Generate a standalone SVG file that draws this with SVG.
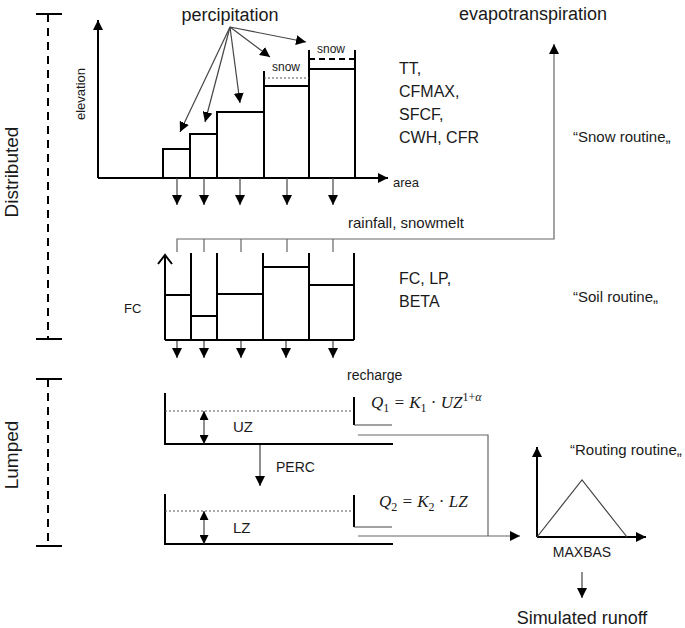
<svg xmlns="http://www.w3.org/2000/svg" width="685" height="628" viewBox="0 0 685 628">
<style>
text{font-family:"Liberation Sans",Arial,sans-serif;fill:#1a1a1a}
.thick{stroke:#000;stroke-width:2;fill:none}
.thin{stroke:#444;stroke-width:1.2;fill:none}
.gray{stroke:#666;stroke-width:1.2;fill:none}
.dash{stroke:#000;stroke-width:2;stroke-dasharray:8 6;fill:none}
.dot{stroke:#555;stroke-width:1;stroke-dasharray:2 2;fill:none}
.math{font-family:"Liberation Serif","Times New Roman",serif;font-style:italic;font-size:17px}
.up{font-style:normal}
</style>
<defs>
<marker id="ah" markerUnits="userSpaceOnUse" markerWidth="10" markerHeight="10" refX="10" refY="5" orient="auto">
<path d="M0,0 L10,5 L0,10 z" fill="#000"/>
</marker>
<marker id="ahs" markerUnits="userSpaceOnUse" markerWidth="9" markerHeight="9" refX="9" refY="4.5" orient="auto-start-reverse">
<path d="M0,0 L9,4.5 L0,9 z" fill="#000"/>
</marker>
</defs>

<g id="brackets">
<path class="dash" d="M48,14 V339"/>
<path class="thick" d="M36,14 H62 M36,339 H62"/>
<path class="dash" d="M48,379 V546"/>
<path class="thick" d="M36,379 H62 M36,546 H62"/>
<text transform="translate(18,172) rotate(-90)" text-anchor="middle" font-size="19">Distributed</text>
<text transform="translate(18,455) rotate(-90)" text-anchor="middle" font-size="19">Lumped</text>
</g>

<g id="snow-chart">
<path class="thick" d="M98,178 V20" marker-end="url(#ah)"/>
<path class="thick" d="M98,178 H388" marker-end="url(#ah)"/>
<text transform="translate(85,94) rotate(-90)" text-anchor="middle" font-size="13">elevation</text>
<text x="393" y="187" font-size="13">area</text>
<path class="thick" d="M163,178 V149 H190 V178 M190,149 V134 H217 V178 M217,134 V112 H264 V178 M264,178 V71 M264,86 H309 M309,178 V50 M309,69 H355 M355,178 V50"/>
<path class="dot" d="M264,78 H309"/>
<path class="thick" d="M309,59 H355" stroke-dasharray="6 4"/>
<text x="286" y="71" text-anchor="middle" font-size="12">snow</text>
<text x="331" y="53" text-anchor="middle" font-size="12">snow</text>
<text x="230" y="21" text-anchor="middle" font-size="18">percipitation</text>
</g>

<g id="snow-params">
<text x="399" y="74" font-size="16">TT,</text>
<text x="399" y="97" font-size="16">CFMAX,</text>
<text x="399" y="120" font-size="16">SFCF,</text>
<text x="399" y="143" font-size="16">CWH, CFR</text>
<text x="573" y="142" font-size="15">“Snow routine„</text>
</g>

<g id="evap">
<text x="533" y="20" text-anchor="middle" font-size="18">evapotranspiration</text>
</g>

<g id="soil">
<path class="thick" d="M165,340 V256"/>
<path class="thick" d="M158,264 L165,255 L172,264"/>
<path class="thick" d="M165,340 H354 M191,253 V340 M217,253 V340 M263,253 V340 M309,253 V340 M354,253 V340"/>
<path class="thick" d="M165,295 H191 M191,316 H217 M217,294 H263 M263,267 H309 M309,285 H354"/>
<text x="124" y="313" font-size="13">FC</text>
<text x="348" y="228" font-size="15">rainfall, snowmelt</text>
<text x="399" y="284" font-size="16">FC, LP,</text>
<text x="399" y="307" font-size="16">BETA</text>
<text x="573" y="302" font-size="15">“Soil routine„</text>
</g>

<g id="upper-zone">
<path class="thick" d="M165,393 V444 H393"/>
<path class="dot" d="M165,411 H354"/>
<path class="thick" d="M354,397 V425"/>
<path class="thin" d="M354,425 H392"/>
<path class="thin" d="M204,411 V444" marker-start="url(#ahs)" marker-end="url(#ahs)"/>
<text x="233" y="432" font-size="15">UZ</text>
<text x="347" y="380" font-size="14">recharge</text>
<text x="371" y="408" class="math">Q<tspan class="up" font-size="12" dy="4">1</tspan><tspan dy="-4"> = K</tspan><tspan class="up" font-size="12" dy="4">1</tspan><tspan class="up" dy="-4"> · </tspan>UZ<tspan font-size="12" dy="-7"><tspan class="up">1+</tspan>α</tspan></text>
</g>

<g id="perc">
<text x="276" y="472" font-size="14">PERC</text>
</g>

<g id="lower-zone">
<path class="thick" d="M165,494 V544 H393"/>
<path class="dot" d="M165,511 H354"/>
<path class="thick" d="M354,495 V527"/>
<path class="thin" d="M354,527 H392"/>
<path class="thin" d="M204,511 V544" marker-start="url(#ahs)" marker-end="url(#ahs)"/>
<text x="233" y="533" font-size="15">LZ</text>
<text x="379" y="507" class="math">Q<tspan class="up" font-size="12" dy="4">2</tspan><tspan dy="-4"> = K</tspan><tspan class="up" font-size="12" dy="4">2</tspan><tspan class="up" dy="-4"> · </tspan>LZ</text>
</g>

<g id="routing">
<path class="thick" d="M537,537 V447" marker-end="url(#ah)"/>
<path class="thick" d="M537,537 H646" marker-end="url(#ah)"/>
<path class="thin" d="M537,537 L582,480 L627,537"/>
<text x="570" y="455" font-size="15">“Routing routine„</text>
<text x="582" y="557" text-anchor="middle" font-size="14">MAXBAS</text>
<text x="582" y="624" text-anchor="middle" font-size="18">Simulated runoff</text>
</g>

<g id="connectors">
<path class="thin" d="M230,27 L180,132" marker-end="url(#ah)"/>
<path class="thin" d="M230,27 L205,122" marker-end="url(#ah)"/>
<path class="thin" d="M230,27 L240,103" marker-end="url(#ah)"/>
<path class="thin" d="M230,27 L270,57" marker-end="url(#ah)"/>
<path class="thin" d="M230,27 L306,42" marker-end="url(#ah)"/>
<path class="thin" d="M177,178 V205" marker-end="url(#ah)"/>
<path class="thin" d="M204,178 V205" marker-end="url(#ah)"/>
<path class="thin" d="M240,178 V205" marker-end="url(#ah)"/>
<path class="thin" d="M287,178 V205" marker-end="url(#ah)"/>
<path class="thin" d="M333,178 V205" marker-end="url(#ah)"/>
<path class="gray" d="M177,252 V239 H554 V44" marker-end="url(#ah)"/>
<path class="gray" d="M204,239 V252 M241,239 V252 M287,239 V252 M333,239 V252"/>
<path class="thin" d="M177,341 V358" marker-end="url(#ah)"/>
<path class="thin" d="M204,341 V358" marker-end="url(#ah)"/>
<path class="thin" d="M241,341 V358" marker-end="url(#ah)"/>
<path class="thin" d="M286,341 V358" marker-end="url(#ah)"/>
<path class="thin" d="M333,341 V358" marker-end="url(#ah)"/>
<path class="thin" d="M260,445 V486" marker-end="url(#ah)"/>
<path class="gray" d="M358,435 H488 V536"/>
<path class="gray" d="M358,536 H520" marker-end="url(#ah)"/>
<path class="thin" d="M582,572 V598" marker-end="url(#ah)"/>
</g>
</svg>
